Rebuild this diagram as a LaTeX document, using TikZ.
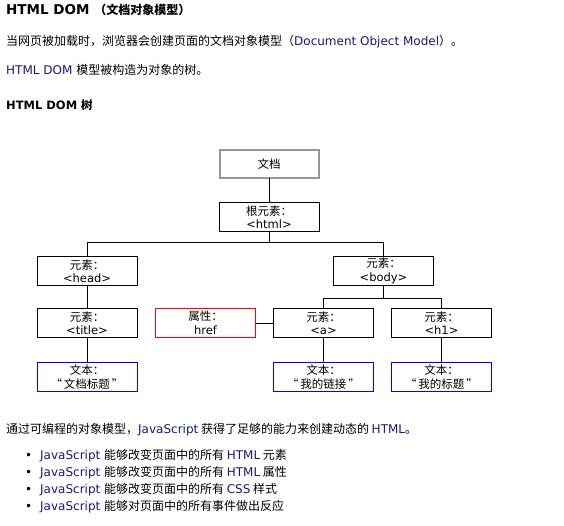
\documentclass[tikz,border=0pt]{standalone}
\usepackage{fontspec}
\usepackage{xcolor}
\usepackage{tikz}
\setmainfont{DejaVu Sans}
\newfontfamily\cjk{Noto Sans CJK SC}
\definecolor{latinnavy}{RGB}{25,25,112}
\definecolor{docgrey}{RGB}{150,150,150}
\definecolor{attrred}{RGB}{255,0,0}
\definecolor{textblue}{RGB}{0,0,255}
\newcommand{\en}[1]{{\rmfamily\color{latinnavy}#1}}
\usetikzlibrary{positioning}

\begin{document}
\begin{tikzpicture}[
    x=1pt, y=-1pt,
    txt/.style={anchor=base west, inner sep=0pt, font=\fontsize{12}{14}\selectfont},
    box/.style={rectangle, draw=black, line width=1pt, fill=white, minimum width=100pt, minimum height=29pt, inner sep=0pt, outer sep=0pt, align=center, font=\fontsize{11.5}{13.5}\selectfont},
    docbox/.style={box, draw=docgrey, line width=2pt, minimum width=99pt, minimum height=28pt},
    attrbox/.style={box, draw=attrred},
    textbox/.style={box, draw=textblue},
    link/.style={line width=1pt, draw=black}
]
\useasboundingbox[fill=white] (0,0) rectangle (564,526);

% page text
\node[txt, font=\fontsize{13.5}{15}\selectfont\bfseries] (title) at (6,15) {HTML DOM {\cjk\fontsize{12}{15}\selectfont （文档对象模型）}};
\node[txt] (intro) at (6,46) {\cjk 当网页被加载时，浏览器会创建页面的文档对象模型（\en{Document Object Model}）。};
\node[txt] (treeline) at (6,75) {\en{HTML DOM} \cjk 模型被构造为对象的树。};
\node[txt, font=\fontsize{11.5}{14}\selectfont\bfseries] (subtitle) at (6,110) {HTML DOM {\cjk 树}};

% the tree
\node[docbox] (doc) at (269,164.5) {\cjk 文档};
\node[box] (html) at (269,217) {{\cjk 根元素：}\\<html>};
\node[box] (head) at (87,271) {{\cjk 元素：}\\<head>};
\node[box] (body) at (383.5,271) {{\cjk 元素：}\\<body>};
\node[box] (title el) at (87,323) {{\cjk 元素：}\\<title>};
\node[attrbox] (href) at (205.5,323) {{\cjk 属性：}\\href};
\node[box] (a) at (323.5,323) {{\cjk 元素：}\\<a>};
\node[box] (h1) at (441.5,323) {{\cjk 元素：}\\<h1>};
\node[textbox] (title text) at (87,377) {{\cjk 文本：}\\{\cjk “\,文档标题\,”}};
\node[textbox] (a text) at (323.5,377) {{\cjk 文本：}\\{\cjk “\,我的链接\,”}};
\node[textbox] (h1 text) at (441.5,377) {{\cjk 文本：}\\{\cjk “\,我的标题\,”}};

\draw[link] (doc.south) -- (html.north);
\draw[link] (html.south) -- ++(0,11) -| (head.north);
\draw[link] (html.south) -- ++(0,11) -| (body.north);
\draw[link] (head.south) -- (title el.north);
\draw[link] (body.south) -- ++(0,13) -| (a.north);
\draw[link] (body.south) -- ++(0,13) -| (h1.north);
\draw[link] (href.east) -- (a.west);
\draw[link] (title el.south) -- (title text.north);
\draw[link] (a.south) -- (a text.north);
\draw[link] (h1.south) -- (h1 text.north);

% closing text
\node[txt] (closing) at (6,433) {\cjk 通过可编程的对象模型，\en{JavaScript} 获得了足够的能力来创建动态的 \en{HTML}。};
\node[txt] (item1) at (40,459) {\en{JavaScript} \cjk 能够改变页面中的所有 \en{HTML} 元素};
\node[txt] (item2) at (40,476) {\en{JavaScript} \cjk 能够改变页面中的所有 \en{HTML} 属性};
\node[txt] (item3) at (40,493) {\en{JavaScript} \cjk 能够改变页面中的所有 \en{CSS} 样式};
\node[txt] (item4) at (40,510) {\en{JavaScript} \cjk 能够对页面中的所有事件做出反应};
\foreach \y in {459,476,493,510}
    \node[txt] at (25,\y) {•};

\end{tikzpicture}
\end{document}
